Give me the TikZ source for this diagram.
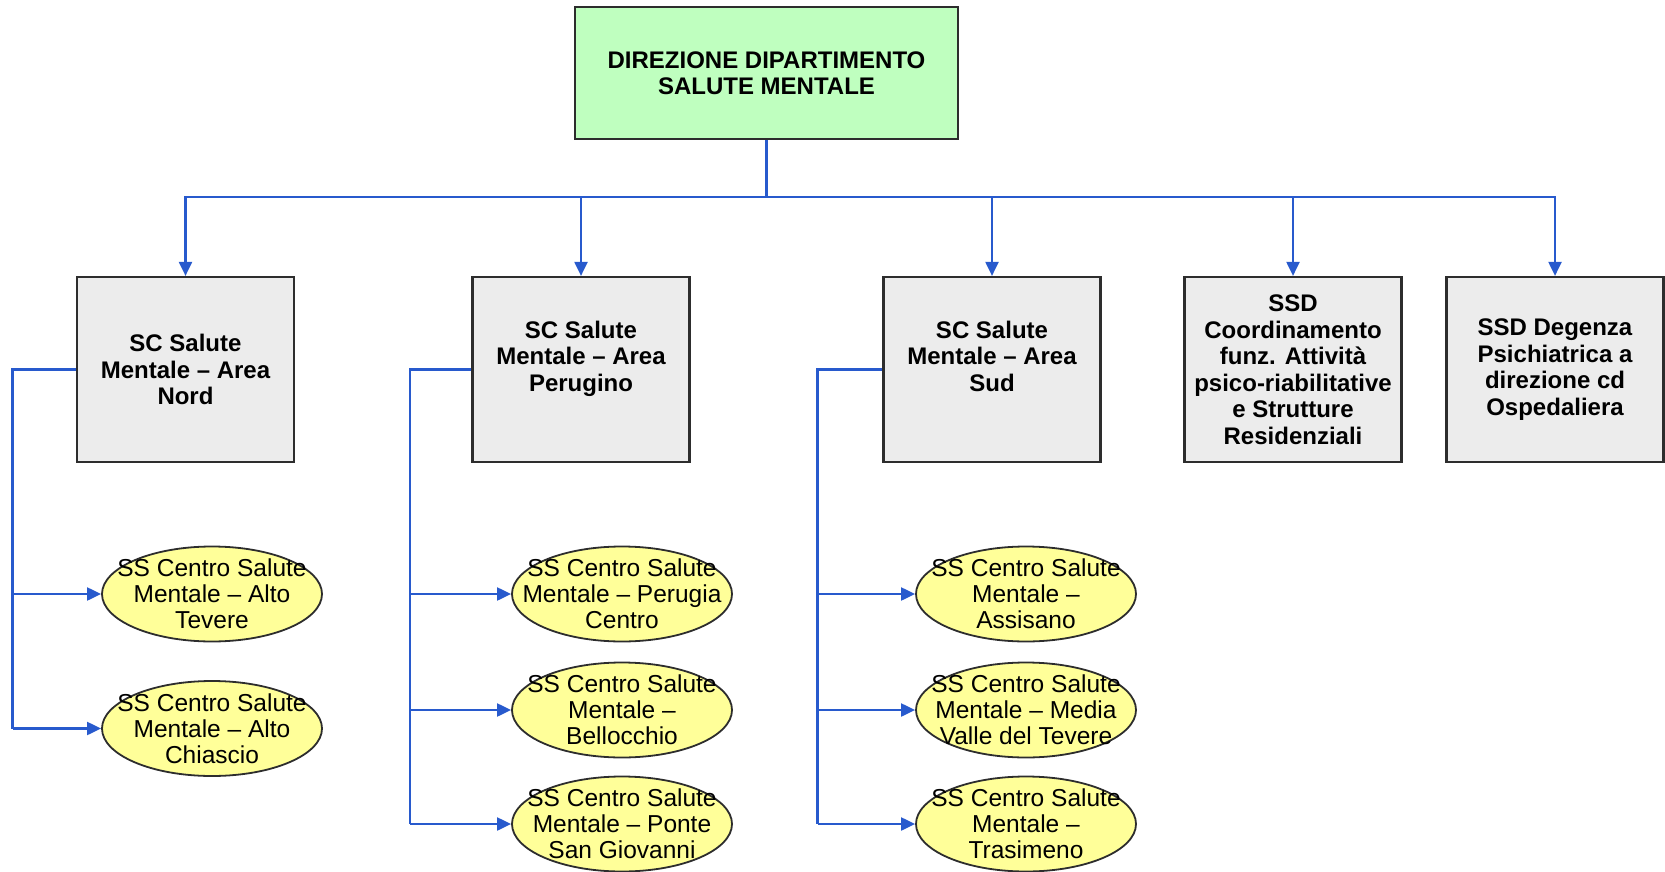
\documentclass[tikz,border=0pt]{standalone}
\usepackage{fontspec}
\setmainfont{Liberation Sans}
\usetikzlibrary{shapes.geometric,arrows.meta}
\definecolor{topgreen}{RGB}{191,255,191}
\definecolor{boxgray}{RGB}{236,236,236}
\definecolor{ellyellow}{RGB}{255,255,153}
\definecolor{linkblue}{RGB}{40,90,205}
\definecolor{edgegray}{RGB}{45,45,45}
\tikzset{
  topbox/.style={draw=edgegray,line width=2.2pt,fill=topgreen,minimum width=383pt,minimum height=132pt,
    align=center,inner sep=2pt,font=\fontsize{24}{26.5}\selectfont\bfseries},
  graybox/.style={draw=edgegray,line width=2.2pt,fill=boxgray,minimum width=217pt,minimum height=185pt,
    align=center,inner sep=2pt,font=\fontsize{24}{26.5}\selectfont\bfseries},
  ellip/.style={ellipse,draw=edgegray,line width=1.8pt,fill=ellyellow,minimum width=220pt,minimum height=95pt,inner sep=0pt},
  etext/.style={align=center,inner sep=0pt,font=\fontsize{24.5}{26}\selectfont},
  conn/.style={draw=linkblue,line width=2.1pt},
  arr/.style={conn,-{Triangle[length=14pt,width=13pt]}}
}
\begin{document}
\begin{tikzpicture}[x=1pt,y=-1pt]
\useasboundingbox (0,0) rectangle (1665,872);
\node[topbox] (top) at (766.5,73) {DIREZIONE DIPARTIMENTO\\SALUTE MENTALE};

\node[graybox] (nord) at (185.5,369.5) {SC Salute\\Mentale -- Area\\Nord};
\node[graybox] (perugino) at (581,369.5) {SC Salute\\Mentale -- Area\\Perugino\\\mbox{}};
\node[graybox] (sud) at (992,369.5) {SC Salute\\Mentale -- Area\\Sud\\\mbox{}};
\node[graybox] (coord) at (1293,369.5) {SSD\\Coordinamento\\funz. Attività\\psico-riabilitative\\e Strutture\\Residenziali};
\node[graybox] (degenza) at (1555,369.5) {SSD Degenza\\Psichiatrica a\\direzione cd\\Ospedaliera};

\node[ellip,label={[etext]center:SS Centro Salute\\Mentale -- Alto\\Tevere}] (n1) at (212,594) {};
\node[ellip,label={[etext]center:SS Centro Salute\\Mentale -- Alto\\Chiascio}] (n2) at (212,728.5) {};

\node[ellip,label={[etext]center:SS Centro Salute\\Mentale -- Perugia\\Centro}] (p1) at (622,594) {};
\node[ellip,label={[etext]center:SS Centro Salute\\Mentale --\\Bellocchio}] (p2) at (622,710) {};
\node[ellip,label={[etext]center:SS Centro Salute\\Mentale -- Ponte\\San Giovanni}] (p3) at (622,824) {};

\node[ellip,label={[etext]center:SS Centro Salute\\Mentale --\\Assisano}] (s1) at (1026,594) {};
\node[ellip,label={[etext]center:SS Centro Salute\\Mentale -- Media\\Valle del Tevere}] (s2) at (1026,710) {};
\node[ellip,label={[etext]center:SS Centro Salute\\Mentale --\\Trasimeno}] (s3) at (1026,824) {};

% top bus
\coordinate (bus) at (766.5,197);
\draw[conn] (top.south) -- (bus);
\foreach \n in {nord,perugino,sud,coord,degenza}
  \draw[arr] (bus) -| (\n.north);

% side buses
\coordinate (nordL) at (12.5,369.5);
\coordinate (perL) at (410,369.5);
\coordinate (sudL) at (817.5,369.5);
\draw[conn] (nord.west) -- (nordL) -- (nordL |- n2.west);
\draw[conn] (perugino.west) -- (perL) -- (perL |- p3.west);
\draw[conn] (sud.west) -- (sudL) -- (sudL |- s3.west);
\foreach \e in {n1,n2} \draw[arr] (nordL |- \e.west) -- (\e.west);
\foreach \e in {p1,p2,p3} \draw[arr] (perL |- \e.west) -- (\e.west);
\foreach \e in {s1,s2,s3} \draw[arr] (sudL |- \e.west) -- (\e.west);
\end{tikzpicture}
\end{document}
